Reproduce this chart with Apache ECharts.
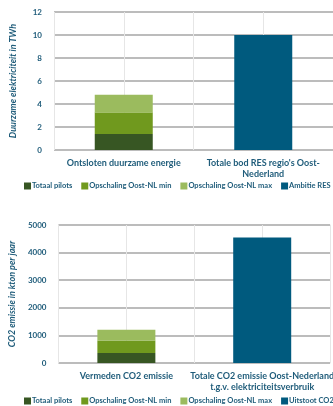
<!DOCTYPE html>
<html lang="nl">
<head>
  <meta charset="UTF-8">
  <title>Duurzame elektriciteit en CO2</title>
  <style>
    html, body { margin: 0; padding: 0; background: #fff; }
  </style>
</head>
<body>
  <div id="main" style="width:333px;height:406px;"></div>
</body>
<script src="https://cdn.jsdelivr.net/npm/echarts@6/dist/echarts.min.js"></script>
<script>
  // chart 1: TWh
  var cats1 = ['Ontsloten duurzame energie', "Totale bod RES regio's Oost-\nNederland"];
  var pilots1 = [1.4, '-'];
  var min1 = [1.85, '-'];
  var max1 = [1.55, '-'];
  var ambitie1 = ['-', 10];

  // chart 2: kton CO2
  var cats2 = ['Vermeden CO2 emissie', 'Totale CO2 emissie Oost-Nederland\nt.g.v. elektriciteitsverbruik'];
  var pilots2 = [360, '-'];
  var min2 = [455, '-'];
  var max2 = [390, '-'];
  var uitstoot2 = ['-', 4550];

  var names1 = ['Totaal pilots', 'Opschaling Oost-NL min', 'Opschaling Oost-NL max', 'Ambitie RES 1.0'];
  var names2 = ['Totaal pilots', 'Opschaling Oost-NL min', 'Opschaling Oost-NL max', 'Uitstoot CO2 2020'];
  var colors = ['#375623', '#70991e', '#9bbb5e', '#005a7e'];

  var txt = '#1f5c7a';
  var font = 'Lato';

  function valueAxis(gridIndex, max, interval, name) {
    return {
      type: 'value', gridIndex: gridIndex, min: 0, max: max, interval: interval,
      name: name, nameLocation: 'middle', nameGap: 36,
      nameTextStyle: { color: txt, fontFamily: font, fontWeight: 'bold', fontStyle: 'italic', fontSize: 9 },
      axisLine: { show: false }, axisTick: { show: false },
      axisLabel: { color: txt, fontFamily: font, fontWeight: 'bold', fontSize: 8, margin: 12,
        formatter: function (v) { return String(v); } },
      splitLine: { lineStyle: { color: '#a6a6a6', width: 1.5 } }
    };
  }

  function catAxis(gridIndex, data) {
    return {
      type: 'category', gridIndex: gridIndex, data: data,
      axisLine: { show: false }, axisTick: { show: false },
      axisLabel: { color: txt, fontFamily: font, fontWeight: 'bold', fontSize: 9, margin: 8, lineHeight: 11, interval: 0 },
      splitLine: { show: false }
    };
  }

  // hidden axis only for the light vertical lines
  function gridAxis(gridIndex) {
    return {
      type: 'category', gridIndex: gridIndex, data: ['', '', '', ''], position: 'top',
      axisLine: { show: false }, axisTick: { show: false }, axisLabel: { show: false },
      splitLine: { show: true, lineStyle: { color: '#e6e6e6', width: 1 } }
    };
  }

  function bars(names, data, xIdx, yIdx, stack) {
    return names.map(function (n, i) {
      return {
        name: n, type: 'bar', stack: stack, xAxisIndex: xIdx, yAxisIndex: yIdx,
        barWidth: 58, data: data[i], itemStyle: { color: colors[i] },
        emphasis: { disabled: true }
      };
    });
  }

  function legend(top, names) {
    return {
      data: names, left: 24, top: top, width: 500, padding: 0,
      itemWidth: 7, itemHeight: 7, itemGap: 9,
      icon: 'rect', textStyle: { color: txt, fontFamily: font, fontWeight: 'bold', fontSize: 7.5, padding: [0, 0, 0, -4] }
    };
  }

  var myChart = echarts.init(document.getElementById('main'));
  myChart.setOption({
    backgroundColor: '#fff',
    animation: false,
    grid: [
      { left: 54, top: 12, width: 288, height: 138 },
      { left: 54, top: 225, width: 288, height: 138 }
    ],
    legend: [legend(182, names1), legend(397, names2)],
    xAxis: [catAxis(0, cats1), catAxis(1, cats2), gridAxis(0), gridAxis(1)],
    yAxis: [
      valueAxis(0, 12, 2, 'Duurzame elektriciteit in TWh'),
      valueAxis(1, 5000, 1000, 'CO2 emissie in kton per jaar')
    ],
    series: bars(names1, [pilots1, min1, max1, ambitie1], 0, 0, 'a')
      .concat(bars(names2, [pilots2, min2, max2, uitstoot2], 1, 1, 'b'))
  });
</script>
</html>
